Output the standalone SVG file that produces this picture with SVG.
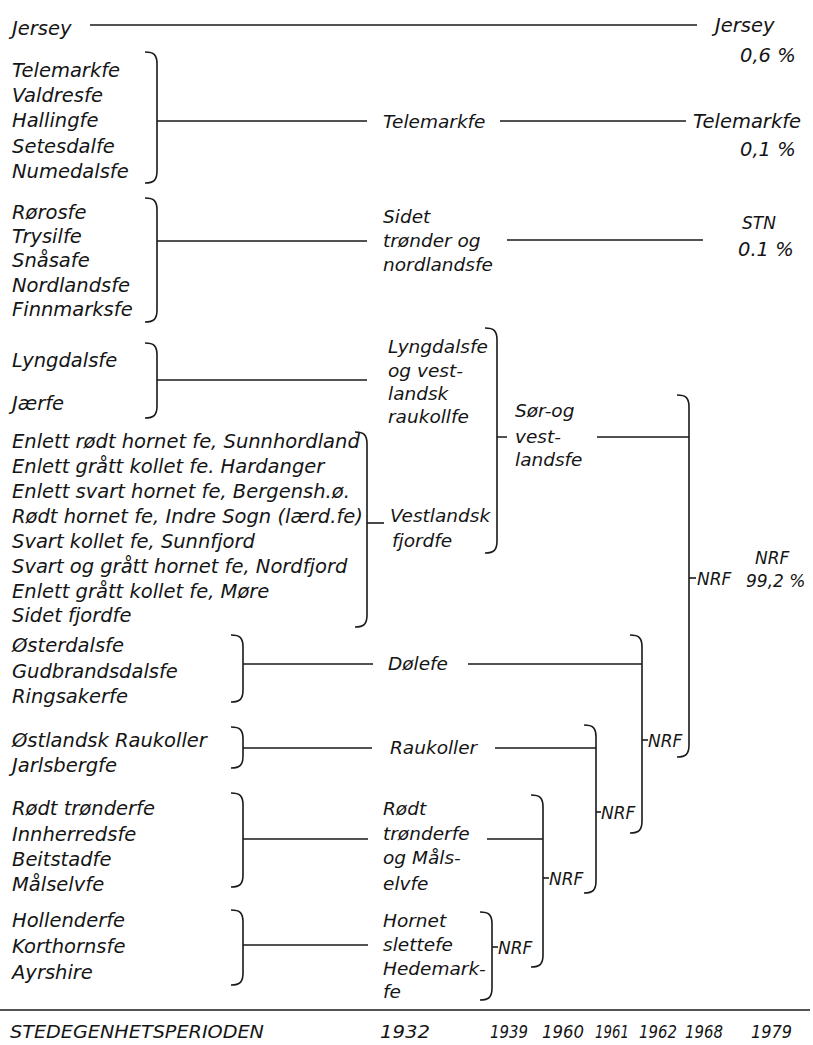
<svg xmlns="http://www.w3.org/2000/svg" width="813" height="1045" viewBox="0 0 813 1045">
<style>
text{font-family:"DejaVu Sans","Liberation Sans",sans-serif;font-style:italic;font-size:19.5px;fill:#151515}
text.n{font-size:17px}
text.m{font-size:18.5px}
text.y{font-size:18px}
.c{fill:none;stroke:#1a1a1a;stroke-width:1.6}
</style>
<rect width="813" height="1045" fill="#fff"/>
<g id="connectors" class="c">
<path d="M90,25H697"/>
<path d="M145,52C154,52 157,55 157,64V171C157,180 154,183 145,183"/>
<path d="M157,121H367M500,121H686"/>
<path d="M145,198C154,198 157,201 157,210V310C157,319 154,322 145,322"/>
<path d="M157,241H367M507,240H703"/>
<path d="M145,343C154,343 157,346 157,355V406C157,415 154,418 145,418"/>
<path d="M157,380H367"/>
<path d="M355,432C364,432 367,435 367,444V615C367,624 364,627 355,627"/>
<path d="M367,523H384"/>
<path d="M485,328C494,328 497,331 497,340V541C497,550 494,553 485,553"/>
<path d="M497,437H507M597,437H689"/>
<path d="M677,395C686,395 689,398 689,407V745C689,754 686,757 677,757"/>
<path d="M689,578H696"/>
<path d="M231,635C240,635 243,638 243,647V690C243,699 240,702 231,702"/>
<path d="M243,664H373M468,664H642"/>
<path d="M630,635C639,635 642,638 642,647V821C642,830 639,833 630,833"/>
<path d="M642,740H648"/>
<path d="M231,727C240,727 243,730 243,739V756C243,765 240,768 231,768"/>
<path d="M243,748H372M495,748H596"/>
<path d="M584,725C593,725 596,728 596,737V881C596,890 593,893 584,893"/>
<path d="M596,812H601"/>
<path d="M231,793C240,793 243,796 243,805V875C243,884 240,887 231,887"/>
<path d="M243,839H368M487,839H543"/>
<path d="M531,795C540,795 543,798 543,807V955C543,964 540,967 531,967"/>
<path d="M543,878H549"/>
<path d="M231,910C240,910 243,913 243,922V973C243,982 240,985 231,985"/>
<path d="M243,945H368"/>
<path d="M480,912C489,912 492,915 492,924V988C492,997 489,1000 480,1000"/>
<path d="M492,947H498"/>
<path d="M0,1010H810"/>
</g>
<g id="jersey-src"><text x="12" y="35">Jersey</text></g>
<g id="jersey-out"><text x="715" y="32">Jersey</text><text x="740" y="62">0,6 %</text></g>
<g id="telemark-src">
<text x="12" y="77">Telemarkfe</text><text x="12" y="102">Valdresfe</text><text x="12" y="127">Hallingfe</text><text x="12" y="153">Setesdalfe</text><text x="12" y="178">Numedalsfe</text>
</g>
<g id="telemark-mid"><text class="m" x="383" y="128">Telemarkfe</text></g>
<g id="telemark-out"><text x="693" y="128">Telemarkfe</text><text x="740" y="156">0,1 %</text></g>
<g id="sidet-src">
<text x="12" y="219">Rørosfe</text><text x="12" y="243">Trysilfe</text><text x="12" y="267">Snåsafe</text><text x="12" y="292">Nordlandsfe</text><text x="12" y="316">Finnmarksfe</text>
</g>
<g id="sidet-mid"><text class="m" x="383" y="223">Sidet</text><text class="m" x="383" y="247">trønder og</text><text class="m" x="383" y="271">nordlandsfe</text></g>
<g id="stn-out"><text class="n" x="742" y="229">STN</text><text x="738" y="256">0.1 %</text></g>
<g id="lyngdal-src"><text x="12" y="367">Lyngdalsfe</text><text x="12" y="410">Jærfe</text></g>
<g id="lyngdal-mid"><text class="m" x="388" y="353">Lyngdalsfe</text><text class="m" x="388" y="377">og vest-</text><text class="m" x="388" y="400">landsk</text><text class="m" x="388" y="423">raukollfe</text></g>
<g id="fjord-src">
<text x="12" y="448">Enlett rødt hornet fe, Sunnhordland</text>
<text x="12" y="473">Enlett grått kollet fe. Hardanger</text>
<text x="12" y="498">Enlett svart hornet fe, Bergensh.ø.</text>
<text x="12" y="523">Rødt hornet fe, Indre Sogn (lærd.fe)</text>
<text x="12" y="548">Svart kollet fe, Sunnfjord</text>
<text x="12" y="573">Svart og grått hornet fe, Nordfjord</text>
<text x="12" y="598">Enlett grått kollet fe, Møre</text>
<text x="12" y="622">Sidet fjordfe</text>
</g>
<g id="fjord-mid"><text class="m" x="390" y="522">Vestlandsk</text><text class="m" x="392" y="547">fjordfe</text></g>
<g id="sorvest"><text class="m" x="515" y="417">Sør-og</text><text class="m" x="515" y="443">vest-</text><text class="m" x="515" y="466">landsfe</text></g>
<g id="nrf-final"><text class="n" x="697" y="585">NRF</text><text class="n" x="755" y="564">NRF</text><text class="n" x="746" y="587">99,2 %</text></g>
<g id="dole-src"><text x="12" y="652">Østerdalsfe</text><text x="12" y="678">Gudbrandsdalsfe</text><text x="12" y="703">Ringsakerfe</text></g>
<g id="dole-mid"><text class="m" x="388" y="670">Dølefe</text></g>
<g id="nrf-1961"><text class="n" x="648" y="747">NRF</text></g>
<g id="rauk-src"><text x="12" y="747">Østlandsk Raukoller</text><text x="12" y="772">Jarlsbergfe</text></g>
<g id="rauk-mid"><text class="m" x="390" y="754">Raukoller</text></g>
<g id="nrf-1960"><text class="n" x="601" y="819">NRF</text></g>
<g id="rodt-src"><text x="12" y="815">Rødt trønderfe</text><text x="12" y="841">Innherredsfe</text><text x="12" y="866">Beitstadfe</text><text x="12" y="891">Målselvfe</text></g>
<g id="rodt-mid"><text class="m" x="383" y="815">Rødt</text><text class="m" x="383" y="840">trønderfe</text><text class="m" x="383" y="864">og Måls-</text><text class="m" x="383" y="890">elvfe</text></g>
<g id="nrf-1939b"><text class="n" x="549" y="885">NRF</text></g>
<g id="holl-src"><text x="12" y="927">Hollenderfe</text><text x="12" y="953">Korthornsfe</text><text x="12" y="979">Ayrshire</text></g>
<g id="hornet-mid"><text class="m" x="383" y="927">Hornet</text><text class="m" x="383" y="951">slettefe</text><text class="m" x="383" y="975">Hedemark-</text><text class="m" x="383" y="998">fe</text></g>
<g id="nrf-1939a"><text class="n" x="498" y="954">NRF</text></g>
<g id="timeline">
<text class="y" x="10" y="1038" textLength="254" lengthAdjust="spacingAndGlyphs">STEDEGENHETSPERIODEN</text>
<text class="y" x="380" y="1038" textLength="50" lengthAdjust="spacingAndGlyphs">1932</text>
<text class="y" x="490" y="1038" textLength="38" lengthAdjust="spacingAndGlyphs">1939</text>
<text class="y" x="542" y="1038" textLength="42" lengthAdjust="spacingAndGlyphs">1960</text>
<text class="y" x="595" y="1038" textLength="34" lengthAdjust="spacingAndGlyphs">1961</text>
<text class="y" x="639" y="1038" textLength="38" lengthAdjust="spacingAndGlyphs">1962</text>
<text class="y" x="685" y="1038" textLength="38" lengthAdjust="spacingAndGlyphs">1968</text>
<text class="y" x="751" y="1038" textLength="41" lengthAdjust="spacingAndGlyphs">1979</text>
</g>
</svg>
